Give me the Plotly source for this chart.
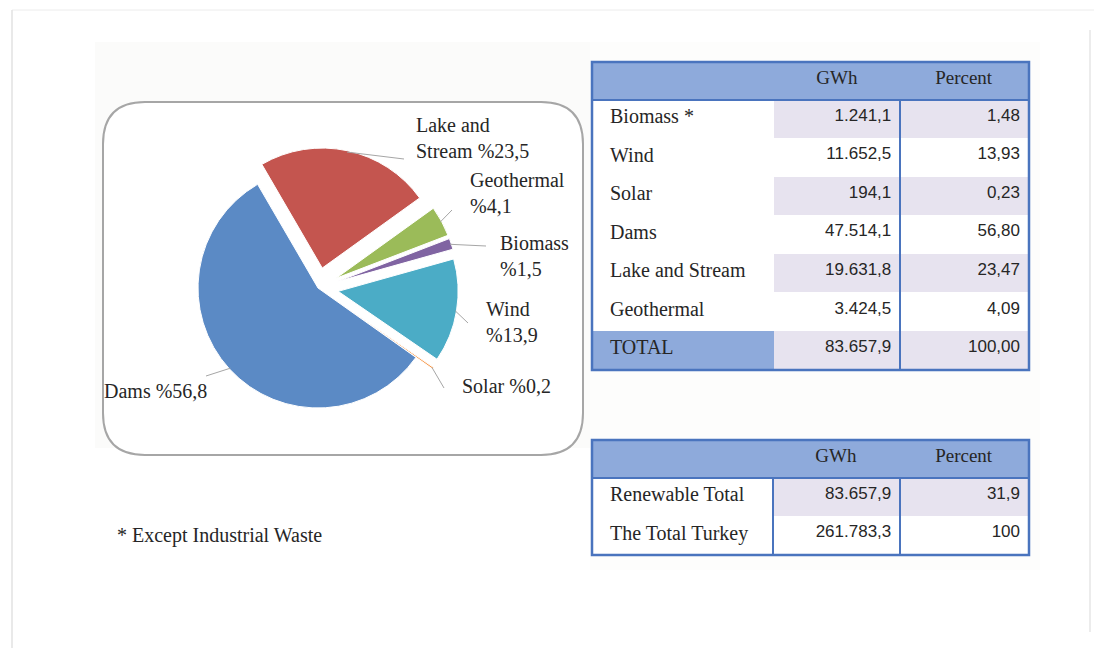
import math
import plotly.graph_objects as go

W, H = 1102, 648
OFF = 8  # the page body adds an 8px margin; positions below are window pixels
FW, FH = W - OFF, H - OFF

# ---- data ----
sources = ["Biomass", "Wind", "Solar", "Dams", "Lake and Stream", "Geothermal"]
gwh = [1241.1, 11652.5, 194.1, 47514.1, 19631.8, 3424.5]
percent = [1.48, 13.93, 0.23, 56.80, 23.47, 4.09]
total_label = "TOTAL"
total_gwh = 83657.9
total_percent = 100.00

summary_rows = ["Renewable Total", "The Total Turkey"]
summary_gwh = [83657.9, 261783.3]
summary_percent = [31.9, 100]
summary_decimals = [1, 0]

marked = ["Biomass"]
footnote = "* Except Industrial Waste"

# how each pie label breaks over lines
pie_label_fmt = {
    "Lake and Stream": "Lake and<br>Stream %{p}",
    "Geothermal": "Geothermal<br>%{p}",
    "Biomass": "Biomass<br>%{p}",
    "Wind": "Wind<br>%{p}",
    "Solar": "Solar %{p}",
    "Dams": "Dams %{p}",
}


def tr(v, d):
    # Turkish number format: 1.234,5
    s = f"{v:,.{d}f}"
    return s.replace(",", "X").replace(".", ",").replace("X", ".")


def px(x):
    return (x - OFF) / FW


def py(y):
    return 1 - (y - OFF) / FH


PAD = "\u00a0\u00a0"  # left inset of the label column

colors = ["#8064A2", "#4BACC6", "#F79646", "#5B8AC5", "#C4554F", "#9BBB59"]
pulls = [0.17, 0.17, 0.17, 0.0, 0.17, 0.17]
rotation = 69

SERIF = "Liberation Serif, Times New Roman, serif"
NARROW = "Liberation Sans Narrow, Arial Narrow, Liberation Sans, sans-serif"
TXT = "#262626"
BLUE_HEAD = "#8EAADB"
LAV = "#E7E3EF"
FRAME = "#4A74BE"

fig = go.Figure()

# ---- pie ----
cx, cy, r = 318, 288, 120
R = r * (1 + max(pulls))
fig.add_trace(go.Pie(
    labels=sources, values=gwh, sort=False, direction="clockwise",
    rotation=rotation, pull=pulls, textinfo="none", hoverinfo="label+percent",
    marker=dict(colors=colors, line=dict(color="white", width=1)),
    domain=dict(x=[px(cx - R), px(cx + R)], y=[py(cy + R), py(cy - R)]),
    showlegend=False,
))

# ---- table 1 ----
t1 = dict(x0=592, x1=1029, y0=62, y1=370, head=38, cols=[183, 125, 129])
n1 = len(sources) + 1
row_h1 = (t1["y1"] - t1["y0"] - t1["head"]) / n1
names1 = [PAD + (s + " *" if s in marked else s) for s in sources] + [PAD + total_label]
col_gwh = [tr(v, 1) for v in gwh] + [tr(total_gwh, 1)]
col_pct = [tr(v, 2) for v in percent] + [tr(total_percent, 2)]
lav1 = [LAV if i % 2 == 0 else "white" for i in range(n1)]
fill0 = ["white"] * (n1 - 1) + [BLUE_HEAD]
fills1 = [fill0, lav1, lav1]
fig.add_trace(go.Table(
    domain=dict(x=[px(t1["x0"]), px(t1["x1"])], y=[py(t1["y1"]), py(t1["y0"])]),
    columnwidth=t1["cols"],
    header=dict(values=["", "GWh", "Percent"], height=t1["head"],
                fill_color=BLUE_HEAD, line=dict(color=BLUE_HEAD, width=1),
                align=["left", "center", "center"],
                font=dict(family=SERIF, size=19, color=TXT)),
    cells=dict(values=[names1, col_gwh, col_pct], height=row_h1,
               fill_color=fills1, line=dict(color=fills1, width=1),
               align=["left", "right", "right"],
               font=dict(family=[SERIF, NARROW, NARROW], size=[20, 17, 17], color=TXT)),
))

# ---- table 2 ----
t2 = dict(x0=592, x1=1029, y0=440, y1=555, head=38, cols=[181, 127, 129])
n2 = len(summary_rows)
row_h2 = (t2["y1"] - t2["y0"] - t2["head"]) / n2
lav2 = [LAV if i % 2 == 0 else "white" for i in range(n2)]
fills2 = [["white"] * n2, lav2, lav2]
fig.add_trace(go.Table(
    domain=dict(x=[px(t2["x0"]), px(t2["x1"])], y=[py(t2["y1"]), py(t2["y0"])]),
    columnwidth=t2["cols"],
    header=dict(values=["", "GWh", "Percent"], height=t2["head"],
                fill_color=BLUE_HEAD, line=dict(color=BLUE_HEAD, width=1),
                align=["left", "center", "center"],
                font=dict(family=SERIF, size=19, color=TXT)),
    cells=dict(values=[[PAD + s for s in summary_rows], [tr(v, 1) for v in summary_gwh],
                       [tr(v, d) for v, d in zip(summary_percent, summary_decimals)]],
               height=row_h2, fill_color=fills2, line=dict(color=fills2, width=1),
               align=["left", "right", "right"],
               font=dict(family=[SERIF, NARROW, NARROW], size=[20, 17, 17], color=TXT)),
))

shapes = []


def line(x0, y0, x1, y1, color, width):
    shapes.append(dict(type="line", xref="paper", yref="paper",
                       x0=px(x0), y0=py(y0), x1=px(x1), y1=py(y1),
                       line=dict(color=color, width=width)))


def rect(x0, y0, x1, y1, color=None, width=0, fill=None, layer="above"):
    shapes.append(dict(type="rect", xref="paper", yref="paper", layer=layer,
                       x0=px(x0), y0=py(y1), x1=px(x1), y1=py(y0),
                       line=dict(color=color or "rgba(0,0,0,0)", width=width),
                       fillcolor=fill or "rgba(0,0,0,0)"))


# page + document background
rect(95, 42, 590, 448, fill="#FBFBFA", layer="below")
rect(590, 42, 1040, 570, fill="#FDFDFC", layer="below")
line(12, 10, 1102, 10, "#ECECEC", 1)
line(12, 10, 12, 648, "#E2E2E2", 1.5)
line(1090, 30, 1090, 632, "#E6E6E6", 1.5)

# rounded frame round the pie
bx0, by0, bx1, by1, rad = 103, 102, 583, 455, 42
path = (f"M {px(bx0 + rad)},{py(by0)} L {px(bx1 - rad)},{py(by0)} "
        f"Q {px(bx1)},{py(by0)} {px(bx1)},{py(by0 + rad)} L {px(bx1)},{py(by1 - rad)} "
        f"Q {px(bx1)},{py(by1)} {px(bx1 - rad)},{py(by1)} L {px(bx0 + rad)},{py(by1)} "
        f"Q {px(bx0)},{py(by1)} {px(bx0)},{py(by1 - rad)} L {px(bx0)},{py(by0 + rad)} "
        f"Q {px(bx0)},{py(by0)} {px(bx0 + rad)},{py(by0)} Z")
shapes.append(dict(type="path", xref="paper", yref="paper", path=path, layer="below",
                   line=dict(color="#A6A6A6", width=2), fillcolor="white"))

# table frames
for t, dividers in ((t1, [t1["x0"] + t1["cols"][0] + t1["cols"][1]]),
                    (t2, [t2["x0"] + t2["cols"][0], t2["x0"] + t2["cols"][0] + t2["cols"][1]])):
    rect(t["x0"], t["y0"], t["x1"], t["y1"], color=FRAME, width=2.5)
    line(t["x0"], t["y0"] + t["head"], t["x1"], t["y0"] + t["head"], FRAME, 2)
    for dx in dividers:
        line(dx, t["y0"] + t["head"], dx, t["y1"], FRAME, 2)

# pie labels with leader lines
label_pos = {
    "Lake and Stream": (414, 112, 404, 159),
    "Geothermal": (468, 167, 452, 210),
    "Biomass": (498, 230, 486, 246),
    "Wind": (484, 296, 468, 323),
    "Solar": (460, 373, 444, 388),
    "Dams": (102, 378, 206, 376),
}
annotations = []
total = sum(gwh)
ang = rotation
for name, v, p, pl in zip(sources, gwh, percent, pulls):
    span = 360 * v / total
    mid = math.radians(ang + span / 2)
    ang += span
    tipx = cx + r * (1 + pl) * math.sin(mid) * 0.99
    tipy = cy - r * (1 + pl) * math.cos(mid) * 0.99
    lx, ly, ex, ey = label_pos[name]
    line(tipx, tipy, ex, ey, "#A6A6A6", 1)
    annotations.append(dict(
        x=px(lx), y=py(ly), xref="paper", yref="paper", xanchor="left", yanchor="top",
        align="left", showarrow=False,
        text=pie_label_fmt[name].replace("%{p}", "%" + tr(p, 1)),
        font=dict(family=SERIF, size=20, color=TXT),
    ))

# footnote
annotations.append(dict(
    x=px(108), y=py(535), xref="paper", yref="paper", xanchor="left", yanchor="middle",
    showarrow=False, text=footnote, bgcolor="white", borderpad=8,
    font=dict(family=SERIF, size=20, color=TXT),
))

fig.update_layout(
    width=FW, height=FH, margin=dict(l=0, r=0, t=0, b=0),
    paper_bgcolor="white", plot_bgcolor="white",
    shapes=shapes, annotations=annotations,
)

fig.write_html("out.html")
